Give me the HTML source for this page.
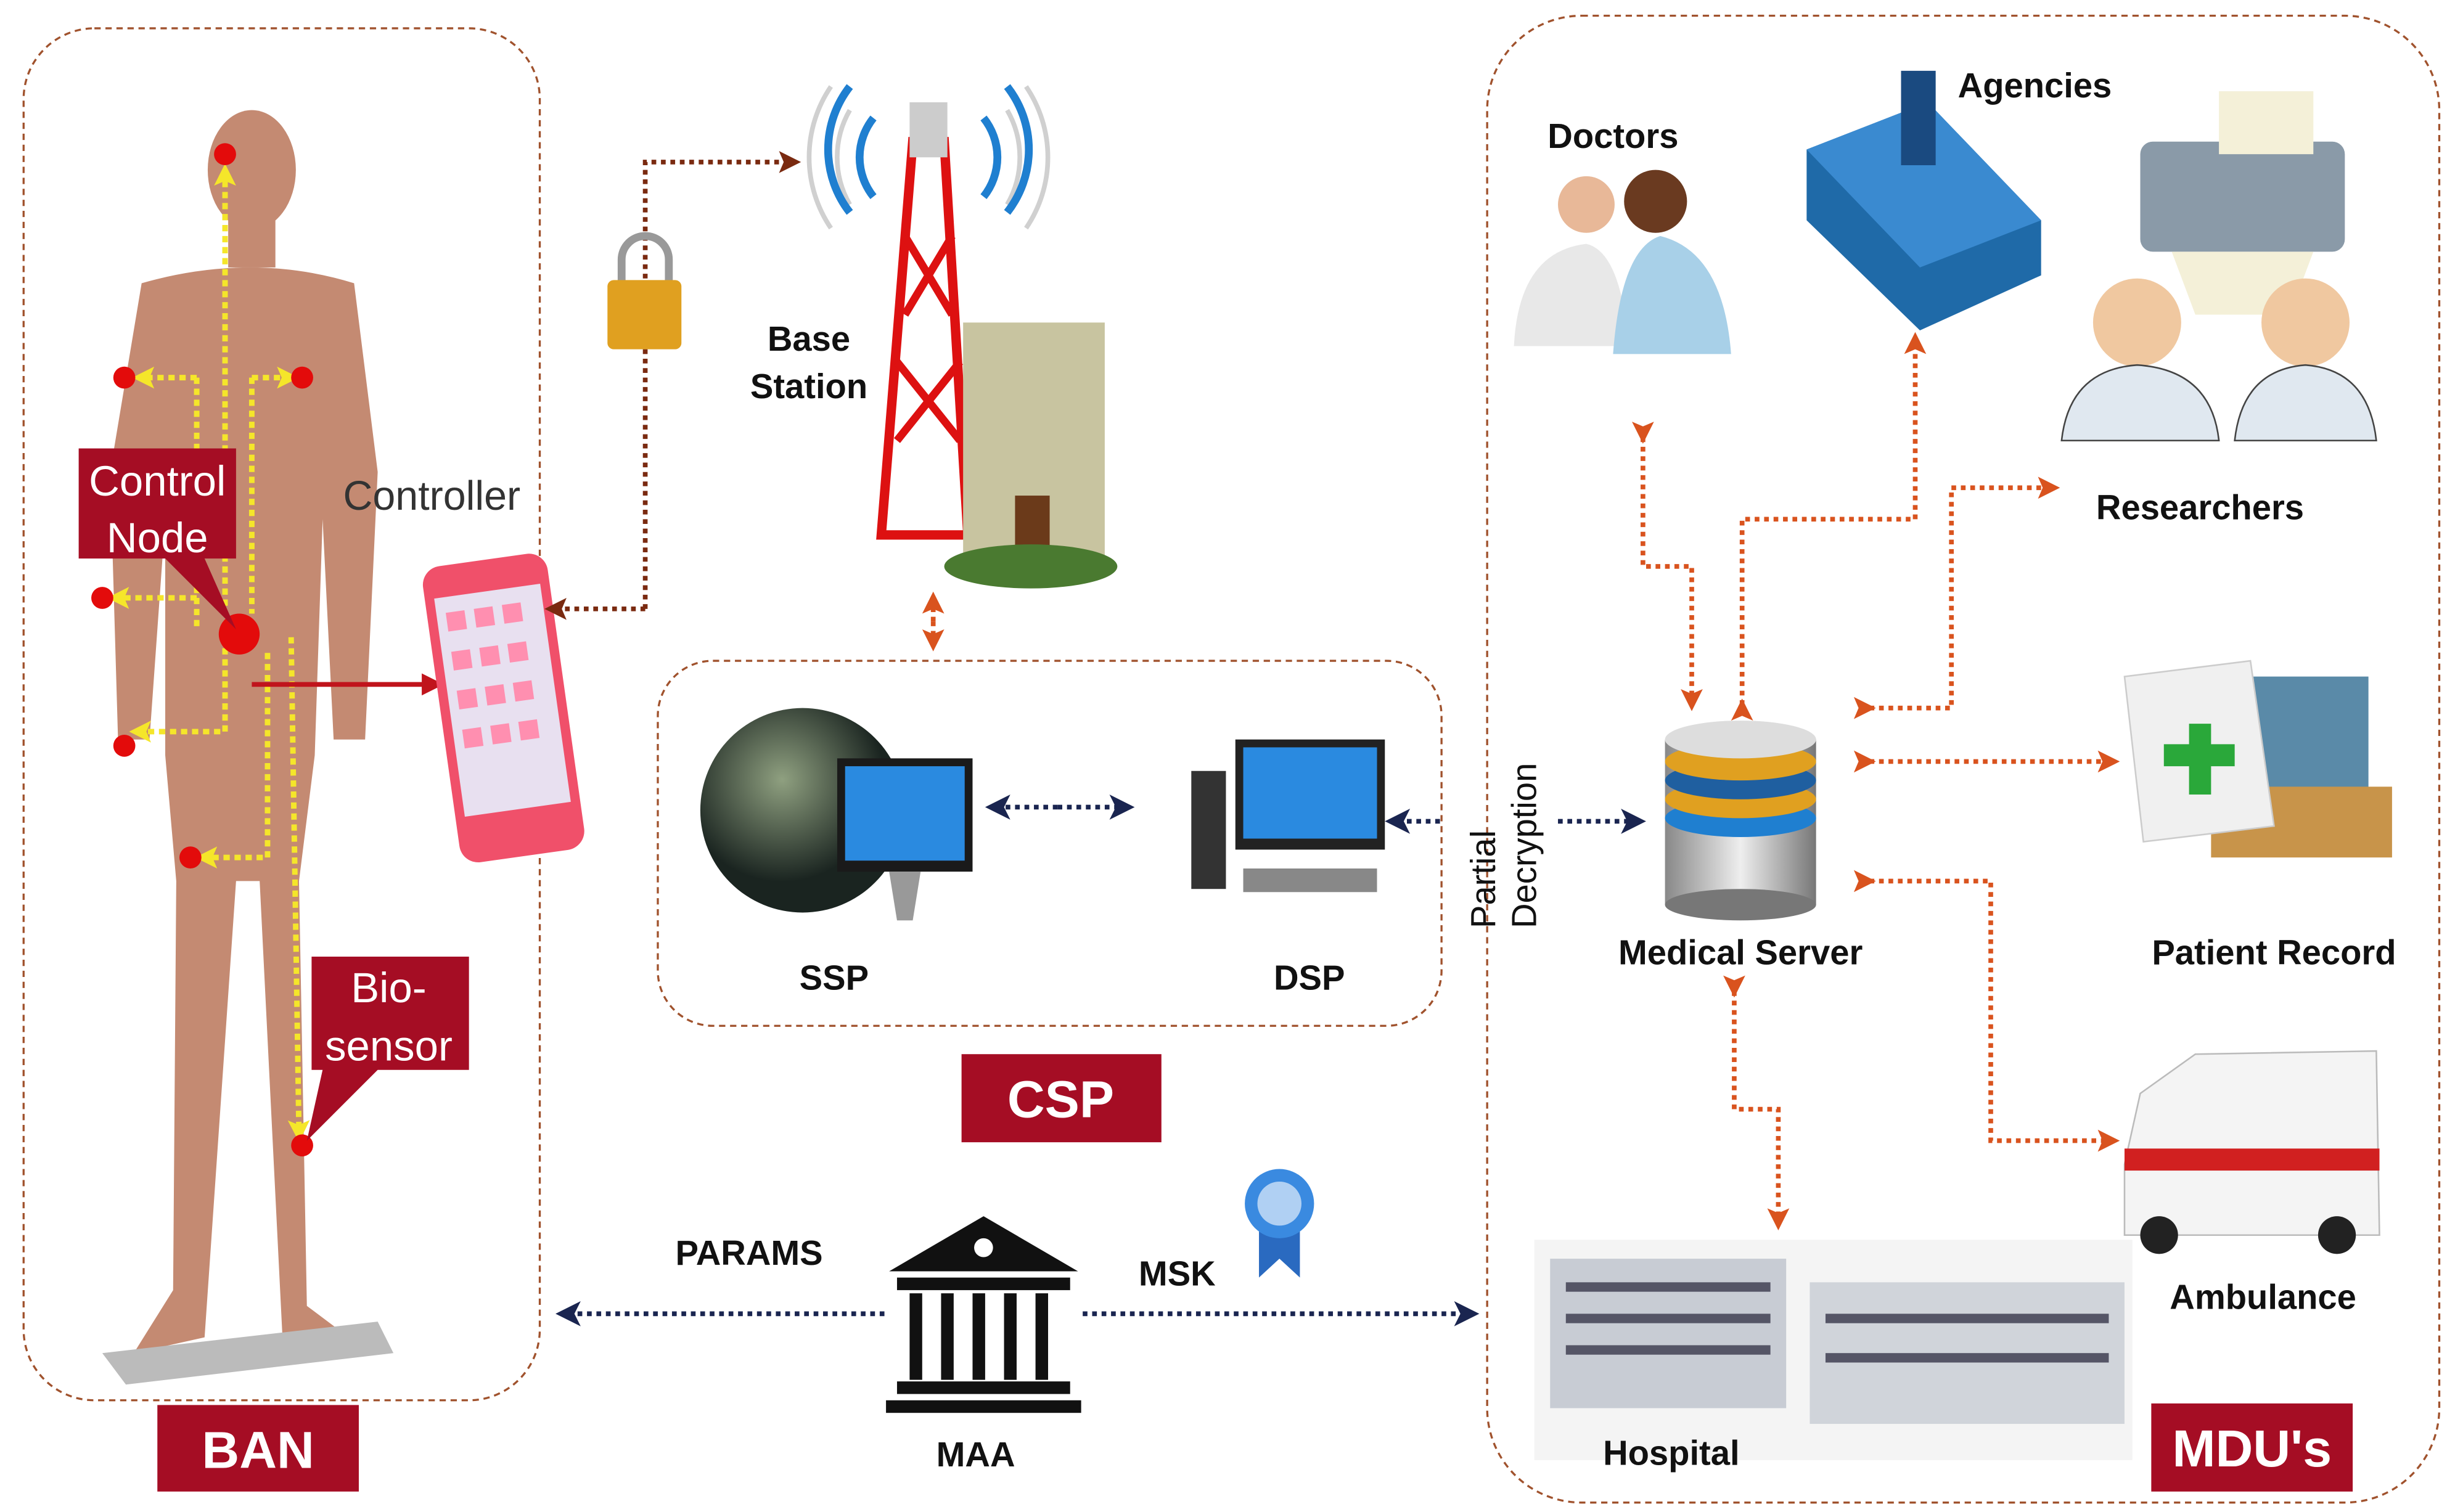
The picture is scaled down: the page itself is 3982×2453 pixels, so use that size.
<!DOCTYPE html>
<html><head><meta charset="utf-8"><style>html,body{margin:0;padding:0;background:#fff}svg{display:block}</style></head>
<body>
<svg width="3982" height="2453" viewBox="0 0 1560 961" preserveAspectRatio="none" xmlns="http://www.w3.org/2000/svg" font-family="Liberation Sans, sans-serif">
<defs>
<marker id="an" markerWidth="16" markerHeight="16" refX="12" refY="8" orient="auto" markerUnits="userSpaceOnUse"><path d="M0,0L16,8L0,16L4,8z" fill="#1a2550"/></marker>
<marker id="ao" markerWidth="14" markerHeight="14" refX="10" refY="7" orient="auto" markerUnits="userSpaceOnUse"><path d="M0,0L14,7L0,14L3,7z" fill="#d9531e"/></marker>
<marker id="ab" markerWidth="14" markerHeight="14" refX="10" refY="7" orient="auto" markerUnits="userSpaceOnUse"><path d="M0,0L14,7L0,14L3,7z" fill="#7a2a10"/></marker>
<marker id="ay" markerWidth="14" markerHeight="14" refX="10" refY="7" orient="auto" markerUnits="userSpaceOnUse"><path d="M0,0L14,7L0,14L3,7z" fill="#f5e62a"/></marker>
<marker id="ar" markerWidth="14" markerHeight="14" refX="12" refY="7" orient="auto" markerUnits="userSpaceOnUse"><path d="M0,0L14,7L0,14z" fill="#c0141c"/></marker>
<radialGradient id="gl" cx="0.4" cy="0.35"><stop offset="0" stop-color="#8fa080"/><stop offset="1" stop-color="#1a2420"/></radialGradient>
<linearGradient id="cy" x1="0" x2="1"><stop offset="0" stop-color="#888"/><stop offset="0.5" stop-color="#eee"/><stop offset="1" stop-color="#777"/></linearGradient>
</defs>
<rect x="15" y="18" width="328" height="872" rx="45" fill="none" stroke="#a0522d" stroke-width="1.3" stroke-dasharray="4,3"/>
<rect x="418" y="420" width="498" height="232" rx="35" fill="none" stroke="#a0522d" stroke-width="1.3" stroke-dasharray="4,3"/>
<rect x="945" y="10" width="605" height="945" rx="60" fill="none" stroke="#a0522d" stroke-width="1.3" stroke-dasharray="4,3"/>
<rect x="100" y="893" width="128" height="55" fill="#a50d24"/><text x="164" y="933" font-size="33" font-weight="bold" fill="#fff" text-anchor="middle">BAN</text>
<rect x="611" y="670" width="127" height="56" fill="#a50d24"/><text x="674" y="710" font-size="33" font-weight="bold" fill="#fff" text-anchor="middle">CSP</text>
<rect x="1367" y="892" width="128" height="56" fill="#a50d24"/><text x="1431" y="932" font-size="33" font-weight="bold" fill="#fff" text-anchor="middle">MDU's</text>
<g fill="#c48a72">
<ellipse cx="160" cy="108" rx="28" ry="38"/>
<rect x="145" y="140" width="30" height="30"/>
<path d="M90,180 Q160,160 225,180 L240,300 L232,470 L212,470 L205,330 L200,480 L190,560 L195,830 L235,860 L180,860 L165,560 L150,560 L130,850 L85,860 L110,820 L112,560 L105,480 L105,330 L95,470 L75,470 L70,300Z"/>
</g>
<path d="M65,860 L240,840 L250,860 L80,880Z" fill="#bbb"/>
<g stroke="#f5e62a" stroke-width="3.5" stroke-dasharray="4,3" fill="none">
<path d="M143,385 L143,108" marker-end="url(#ay)"/>
<path d="M125,240 L88,240" marker-end="url(#ay)"/><path d="M160,240 L186,240" marker-end="url(#ay)"/>
<path d="M125,240 L125,400"/><path d="M160,240 L160,390"/>
<path d="M125,380 L72,380" marker-end="url(#ay)"/>
<path d="M143,405 L143,465 L86,465" marker-end="url(#ay)"/>
<path d="M170,415 L170,545 L128,545" marker-end="url(#ay)"/>
<path d="M185,405 L190,722" marker-end="url(#ay)"/>
</g>
<g fill="#e30b0b"><circle cx="143" cy="98" r="7"/><circle cx="79" cy="240" r="7"/><circle cx="192" cy="240" r="7"/><circle cx="65" cy="380" r="7"/><circle cx="152" cy="403" r="13"/><circle cx="79" cy="474" r="7"/><circle cx="121" cy="545" r="7"/><circle cx="192" cy="728" r="7"/></g>
<path d="M160,435 L280,435" stroke="#c0141c" stroke-width="3" marker-end="url(#ar)"/>
<path d="M50,285 H150 V355 H130 L150,400 L105,355 H50Z" fill="#a50d24"/>
<text x="100" y="315" font-size="27" fill="#fff" text-anchor="middle">Control</text><text x="100" y="351" font-size="27" fill="#fff" text-anchor="middle">Node</text>
<path d="M198,608 H298 V680 H240 L195,725 L205,680 H198Z" fill="#a50d24"/>
<text x="247" y="637" font-size="27" fill="#fff" text-anchor="middle">Bio-</text><text x="247" y="674" font-size="27" fill="#fff" text-anchor="middle">sensor</text>
<text x="218" y="324" font-size="26" fill="#333">Controller</text>
<g transform="rotate(-8 320 450)"><rect x="280" y="355" width="80" height="190" rx="12" fill="#f0506a"/><rect x="286" y="375" width="68" height="140" fill="#e8e0f0"/><g fill="#ff8fb0"><rect x="292" y="385" width="12" height="12"/><rect x="310" y="385" width="12" height="12"/><rect x="328" y="385" width="12" height="12"/><rect x="292" y="410" width="12" height="12"/><rect x="310" y="410" width="12" height="12"/><rect x="328" y="410" width="12" height="12"/><rect x="292" y="435" width="12" height="12"/><rect x="310" y="435" width="12" height="12"/><rect x="328" y="435" width="12" height="12"/><rect x="292" y="460" width="12" height="12"/><rect x="310" y="460" width="12" height="12"/><rect x="328" y="460" width="12" height="12"/></g></g>
<path d="M410,387 H350" stroke="#7a2a10" stroke-width="3" stroke-dasharray="3,3" fill="none" marker-end="url(#ab)"/>
<path d="M410,387 V103 H505" stroke="#7a2a10" stroke-width="3" stroke-dasharray="3,3" fill="none" marker-end="url(#ab)"/>
<path d="M395,180 V165 A15,15 0 0 1 425,165 V180" stroke="#999" stroke-width="5" fill="none"/>
<rect x="386" y="178" width="47" height="44" rx="4" fill="#e0a020"/>
<g stroke="#d0d0d0" stroke-width="3" fill="none"><path d="M540,70 A60,60 0 0 0 540,130"/><path d="M528,55 A80,80 0 0 0 528,145"/><path d="M640,70 A60,60 0 0 1 640,130"/><path d="M652,55 A80,80 0 0 1 652,145"/></g>
<g stroke="#1f7fd0" stroke-width="5" fill="none"><path d="M555,75 A40,40 0 0 0 555,125"/><path d="M540,55 A65,65 0 0 0 540,135"/><path d="M625,75 A40,40 0 0 1 625,125"/><path d="M640,55 A65,65 0 0 1 640,135"/></g>
<path d="M580,90 L600,90 L615,340 L560,340Z" fill="none" stroke="#d11" stroke-width="6"/>
<path d="M575,150 L605,200 M605,150 L575,200 M570,230 L610,280 M610,230 L570,280" stroke="#d11" stroke-width="5"/>
<rect x="578" y="65" width="24" height="35" fill="#ccc"/>
<rect x="612" y="205" width="90" height="150" fill="#c8c4a0"/><rect x="645" y="315" width="22" height="40" fill="#6b3a1a"/>
<ellipse cx="655" cy="360" rx="55" ry="14" fill="#4a7a30"/>
<text x="514" y="223" font-size="22" font-weight="bold" fill="#111" text-anchor="middle">Base</text><text x="514" y="253" font-size="22" font-weight="bold" fill="#111" text-anchor="middle">Station</text>
<path d="M593,395 V380" stroke="#d9531e" stroke-width="3" stroke-dasharray="3,3" marker-end="url(#ao)"/>
<path d="M593,395 V410" stroke="#d9531e" stroke-width="3" stroke-dasharray="3,3" marker-end="url(#ao)"/>
<circle cx="510" cy="515" r="65" fill="url(#gl)"/>
<rect x="532" y="482" width="86" height="72" fill="#1a1a1a"/><rect x="537" y="487" width="76" height="60" fill="#2a8ae0"/><path d="M565,554 L585,554 L580,585 H570Z" fill="#999"/>
<path d="M672,513 H630" stroke="#1a2550" stroke-width="3" stroke-dasharray="3,3" marker-end="url(#an)"/>
<path d="M672,513 H717" stroke="#1a2550" stroke-width="3" stroke-dasharray="3,3" marker-end="url(#an)"/>
<rect x="785" y="470" width="95" height="70" fill="#222"/><rect x="790" y="475" width="85" height="58" fill="#2a8ae0"/><rect x="757" y="490" width="22" height="75" fill="#333"/><rect x="790" y="552" width="85" height="15" fill="#888"/>
<text x="530" y="629" font-size="22" font-weight="bold" text-anchor="middle" fill="#111">SSP</text>
<text x="832" y="629" font-size="22" font-weight="bold" text-anchor="middle" fill="#111">DSP</text>
<path d="M915,522 H884" stroke="#1a2550" stroke-width="3" stroke-dasharray="3,3" marker-end="url(#an)"/>
<path d="M990,522 H1042" stroke="#1a2550" stroke-width="3" stroke-dasharray="3,3" marker-end="url(#an)"/>
<text transform="translate(950,590) rotate(-90)" font-size="22" fill="#111">Partial</text>
<text transform="translate(976,590) rotate(-90)" font-size="22" fill="#111">Decryption</text>
<path d="M565,808 L625,773 L685,808Z" fill="#111"/><circle cx="625" cy="793" r="6" fill="#fff"/>
<rect x="570" y="812" width="110" height="8" fill="#111"/>
<g fill="#111"><rect x="578" y="822" width="8" height="55"/><rect x="598" y="822" width="8" height="55"/><rect x="618" y="822" width="8" height="55"/><rect x="638" y="822" width="8" height="55"/><rect x="658" y="822" width="8" height="55"/></g>
<rect x="570" y="878" width="110" height="8" fill="#111"/><rect x="563" y="890" width="124" height="8" fill="#111"/>
<text x="620" y="932" font-size="22" font-weight="bold" text-anchor="middle" fill="#111">MAA</text>
<path d="M562,835 H357" stroke="#1a2550" stroke-width="3" stroke-dasharray="3,3" marker-end="url(#an)"/>
<path d="M688,835 H936" stroke="#1a2550" stroke-width="3" stroke-dasharray="3,3" marker-end="url(#an)"/>
<text x="476" y="804" font-size="22" font-weight="bold" text-anchor="middle" fill="#111">PARAMS</text>
<text x="748" y="817" font-size="22" font-weight="bold" text-anchor="middle" fill="#111">MSK</text>
<path d="M800,780 L800,812 L813,800 L826,812 L826,780Z" fill="#2a6ac0"/><circle cx="813" cy="765" r="22" fill="#3a8ae0"/><circle cx="813" cy="765" r="14" fill="#fff" opacity="0.6"/>
<rect x="1058" y="470" width="96" height="105" fill="url(#cy)"/>
<ellipse cx="1106" cy="575" rx="48" ry="10" fill="#777"/>
<ellipse cx="1106" cy="520" rx="48" ry="12" fill="#1f7fd0"/><ellipse cx="1106" cy="508" rx="48" ry="12" fill="#e0a020"/><ellipse cx="1106" cy="496" rx="48" ry="12" fill="#1f5fa0"/><ellipse cx="1106" cy="484" rx="48" ry="12" fill="#e0a020"/>
<ellipse cx="1106" cy="470" rx="48" ry="12" fill="#ddd"/>
<text x="1106" y="613" font-size="22" font-weight="bold" text-anchor="middle" fill="#111">Medical Server</text>
<g stroke="#d9531e" stroke-width="3" stroke-dasharray="3,3" fill="none">
<path d="M1044,278 V360 H1075 V448" marker-end="url(#ao)" marker-start="url(#ao)"/>
<path d="M1107,448 V330 H1217 V215" marker-end="url(#ao)" marker-start="url(#ao)"/>
<path d="M1188,450 H1240 V310 H1305" marker-end="url(#ao)" marker-start="url(#ao)"/>
<path d="M1188,484 H1343" marker-end="url(#ao)" marker-start="url(#ao)"/>
<path d="M1188,560 H1265 V725 H1343" marker-end="url(#ao)" marker-start="url(#ao)"/>
<path d="M1102,630 V705 H1130 V778" marker-end="url(#ao)" marker-start="url(#ao)"/>
</g>
<circle cx="1008" cy="130" r="18" fill="#e8b898"/><circle cx="1052" cy="128" r="20" fill="#6a3a20"/>
<path d="M962,220 Q965,160 1008,155 Q1030,160 1035,220Z" fill="#e8e8e8"/><path d="M1025,225 Q1030,158 1055,150 Q1095,160 1100,225Z" fill="#a8d0e8"/>
<text x="1025" y="94" font-size="22" font-weight="bold" text-anchor="middle" fill="#111">Doctors</text>
<path d="M1148,95 L1225,65 L1297,140 L1297,175 L1220,210 L1148,140Z" fill="#1f6aa8"/><path d="M1148,95 L1225,65 L1297,140 L1220,170Z" fill="#3a8ad0"/>
<rect x="1208" y="45" width="22" height="60" fill="#1a4a80"/>
<text x="1293" y="62" font-size="22" font-weight="bold" text-anchor="middle" fill="#111">Agencies</text>
<rect x="1360" y="90" width="130" height="70" rx="8" fill="#8a9aa8"/><rect x="1410" y="58" width="60" height="40" fill="#f4f0d8"/><path d="M1380,160 L1470,160 L1455,200 L1395,200Z" fill="#f4f0d8"/>
<circle cx="1358" cy="205" r="28" fill="#f0c8a0"/><path d="M1310,280 Q1315,235 1358,232 Q1405,235 1410,280Z" fill="#e0e8f0" stroke="#444"/>
<circle cx="1465" cy="205" r="28" fill="#f0c8a0"/><path d="M1420,280 Q1425,235 1465,232 Q1505,235 1510,280Z" fill="#e0e8f0" stroke="#444"/>
<text x="1398" y="330" font-size="22" font-weight="bold" text-anchor="middle" fill="#111">Researchers</text>
<rect x="1420" y="430" width="85" height="75" fill="#5a8aa8"/><rect x="1405" y="500" width="115" height="45" fill="#c8944a"/>
<path d="M1350,430 L1430,420 L1445,525 L1362,535Z" fill="#f0f0f0" stroke="#ccc"/>
<path d="M1375,480 H1420 M1398,460 V505" stroke="#2aa83a" stroke-width="14"/>
<text x="1445" y="613" font-size="22" font-weight="bold" text-anchor="middle" fill="#111">Patient Record</text>
<path d="M1350,740 L1360,695 L1395,670 L1510,668 L1512,785 L1350,785Z" fill="#f4f4f4" stroke="#bbb"/>
<rect x="1350" y="730" width="162" height="14" fill="#d12020"/>
<circle cx="1372" cy="785" r="12" fill="#222"/><circle cx="1485" cy="785" r="12" fill="#222"/>
<text x="1438" y="832" font-size="22" font-weight="bold" text-anchor="middle" fill="#111">Ambulance</text>
<rect x="975" y="788" width="380" height="140" fill="#f4f4f4"/>
<rect x="985" y="800" width="150" height="95" fill="#c8ccd4"/><rect x="1150" y="815" width="200" height="90" fill="#d0d4da"/>
<g fill="#556"><rect x="995" y="815" width="130" height="6"/><rect x="995" y="835" width="130" height="6"/><rect x="995" y="855" width="130" height="6"/><rect x="1160" y="835" width="180" height="6"/><rect x="1160" y="860" width="180" height="6"/></g>
<text x="1062" y="931" font-size="22" font-weight="bold" text-anchor="middle" fill="#111">Hospital</text>
</svg>
</body></html>
